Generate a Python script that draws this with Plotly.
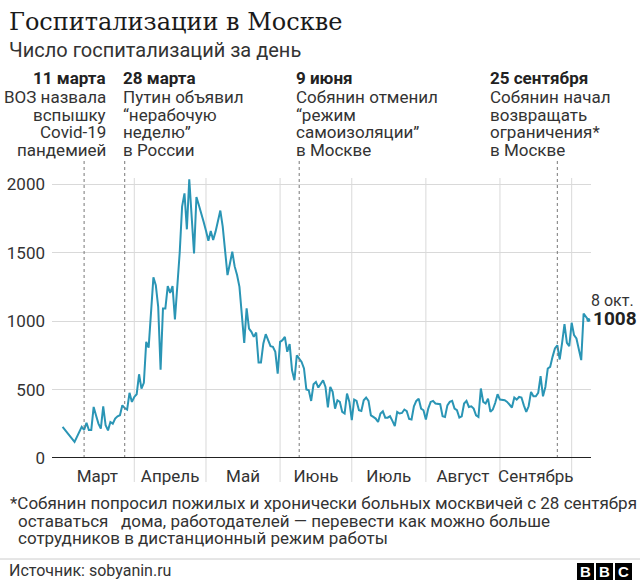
import plotly.graph_objects as go
import pandas as pd

# ---------------- data ----------------
start_date = "2020-03-02"
end_date = "2020-10-08"
# daily hospitalisations (None = no point drawn that day; line connects across)
values = [
    227, None, None, None, None, 117, None, None, 227, 205,
    258, 205, 205, 373, 310, 251, 215, 378, 239, 202,
    263, 251, 288, 305, 312, 385, 365, 354, 476, 410,
    446, 466, 612, 507, 549, 849, 807, 1080, 1320, 1263,
    1105, 646, 1093, 1093, 1256, 1207, 1256, 1012, 1230, 1500,
    1837, 1934, 1671, 2037, None, 1495, 1907, 1849, 1793, 1727,
    1661, 1588, 1659, 1593, 1654, 1727, 1808, 1690, 1507, 1337,
    1420, 1508, 1400, 1337, 1251, 1032, 841, 1093, 946, 922,
    885, 917, 698, 698, 837, 905, 866, 817, 812, 776,
    617, 849, 861, 885, 776, 832, 641, 568, 751, 727,
    702, 654, 500, 495, 417, 539, 556, 515, 544, 568,
    519, 369, 519, 483, 361, 422, 410, 337, 325, 471,
    410, 276, 427, 417, 349, 344, 422, 442, 417, 312,
    300, 288, 263, 325, 342, 295, 295, 305, 271, 234,
    337, 325, 329, 354, 342, 285, 281, 378, 417, 434,
    361, 349, 281, 361, 410, 417, 398, 398, 393, 305,
    300, 385, 410, 417, 361, 349, 295, 305, 398, 417,
    373, 378, 361, 312, 300, 508, 410, 398, 434, 337,
    354, 402, 466, 427, 427, 422, 410, 385, 369, 442,
    427, 446, 442, 385, 337, 378, 483, 451, 451, 476,
    598, 451, 519, 654, 666, 739, 800, 824, 720, 841,
    978, 841, 817, 988, 898, 873, None, 715, 1056, 1032,
    1008,
]
months = ["Март", "Апрель", "Май", "Июнь", "Июль", "Август", "Сентябрь"]
month_starts = ["2020-03-01", "2020-04-01", "2020-05-01", "2020-06-01",
                "2020-07-01", "2020-08-01", "2020-09-01", "2020-10-01"]
y_ticks = [0, 500, 1000, 1500, 2000]

event_dates = ["2020-03-11", "2020-03-28", "2020-06-09", "2020-09-25"]
event_titles = ["11 марта", "28 марта", "9 июня", "25 сентября"]
event_texts = [
    ["ВОЗ назвала", "вспышку", "Covid-19", "пандемией"],
    ["Путин объявил", "“нерабочую", "неделю”", "в России"],
    ["Собянин отменил", "“режим", "самоизоляции”", "в Москве"],
    ["Собянин начал", "возвращать", "ограничения*", "в Москве"],
]
last_label = "8 окт."

title = "Госпитализации в Москве"
subtitle = "Число госпитализаций за день"
footnote = [
    "*Собянин попросил пожилых и хронически больных москвичей с 28 сентября",
    "оставаться\u00a0\u00a0\u00a0дома, работодателей — перевести как можно больше",
    "сотрудников в дистанционный режим работы",
]
source = "Источник: sobyanin.ru"

dates = pd.date_range(start_date, end_date, freq="D")
assert len(dates) == len(values)

# ---------------- geometry ----------------
W, H = 640, 586
L, R, T, B = 52, 49, 178, 128
PW, PH = W - L - R, H - T - B


def px(x):
    return (x - L) / PW


def py(y):
    return (H - B - y) / PH


LINE = "#2a95b5"
GRID = "#d9d9d9"
TXT = "#222222"
FONT = "Roboto"

fig = go.Figure()
fig.add_trace(go.Scatter(x=dates, y=values, mode="lines", connectgaps=True,
                         line=dict(color=LINE, width=2), hoverinfo="skip"))
fig.add_trace(go.Scatter(x=[dates[-1]], y=[values[-1]], mode="markers",
                         marker=dict(color=LINE, size=4), hoverinfo="skip"))

shapes = []
# vertical month separators
for m in month_starts[1:]:
    shapes.append(dict(type="line", xref="x", yref="paper", x0=m, x1=m,
                       y0=py(482), y1=1, line=dict(color=GRID, width=1), layer="below"))
# event dotted lines
for d in event_dates:
    shapes.append(dict(type="line", xref="x", yref="paper", x0=d, x1=d,
                       y0=0, y1=py(161), line=dict(color="#777777", width=1, dash="dot")))
# baseline
shapes.append(dict(type="line", xref="paper", yref="y", x0=0, x1=1, y0=0, y1=0,
                   line=dict(color="#222222", width=2)))
# footer separator
shapes.append(dict(type="line", xref="paper", yref="paper", x0=px(0), x1=px(640),
                   y0=py(559), y1=py(559), line=dict(color="#cccccc", width=1)))
# BBC blocks
bbc_x = [577, 596, 615]
for bx in bbc_x:
    shapes.append(dict(type="rect", xref="paper", yref="paper",
                       x0=px(bx), x1=px(bx + 17), y0=py(580), y1=py(563),
                       fillcolor="#000000", line=dict(width=0)))

ann = []


def text(x, y, s, size=17, color=TXT, anchor="left", family=FONT):
    ann.append(dict(x=px(x), y=py(y), xref="paper", yref="paper", text=s,
                    showarrow=False, xanchor=anchor, yanchor="middle",
                    font=dict(family=family, size=size, color=color)))


text(7, 22, title, size=24, color="#1a1a1a", family="DejaVu Serif")
text(7, 50, subtitle, size=20, color="#333333")

event_x = [(108, "right"), (121, "left"), (294, "left"), (488, "left")]
line_y = [97, 115, 132, 150]
for (ex, anc), et, lines in zip(event_x, event_titles, event_texts):
    text(ex, 78, "<b>" + et + "</b>", size=17, color="#222222", anchor=anc)
    for ly, s in zip(line_y, lines):
        text(ex, ly, s, size=17, color="#333333", anchor=anc)

text(589, 300, last_label, size=16, color="#333333")
text(591, 318, "<b>" + str(values[-1]) + "</b>", size=19, color="#222222")

text(8, 503, footnote[0], size=17, color="#333333")
text(16, 521, footnote[1], size=17, color="#333333")
text(16, 538, footnote[2], size=17, color="#333333")
text(7, 570, source, size=16, color="#333333")
for bx, ch in zip(bbc_x, ["B", "B", "C"]):
    ann.append(dict(x=px(bx + 8.5), y=py(571.5), xref="paper", yref="paper",
                    text="<b>" + ch + "</b>", showarrow=False, xanchor="center",
                    yanchor="middle", font=dict(family="Liberation Sans", size=15, color="white")))

# month label positions: middle of each month
ms = pd.to_datetime(month_starts)
mids = [ms[i] + (ms[i + 1] - ms[i]) / 2 for i in range(len(months))]

fig.update_layout(
    width=W, height=H, margin=dict(l=L, r=R, t=T, b=B, autoexpand=False),
    paper_bgcolor="white", plot_bgcolor="white", showlegend=False,
    shapes=shapes, annotations=ann,
    xaxis=dict(type="date", range=["2020-02-26 13:40", "2020-10-09 02:10"],
               showgrid=False, zeroline=False, showline=False, ticks="",
               tickvals=mids, ticktext=months, ticklabelstandoff=6,
               tickfont=dict(family=FONT, size=17, color="#333333"), fixedrange=True),
    yaxis=dict(range=[0, 2046], tickvals=y_ticks, showgrid=True, gridcolor=GRID,
               gridwidth=1, zeroline=False, showline=False, ticks="",
               ticklabelstandoff=6,
               tickfont=dict(family=FONT, size=17, color="#333333"), fixedrange=True),
)

fig.write_html("out.html", config={"displayModeBar": False},
               post_script="document.body.style.margin='0';document.body.style.overflow='hidden';")
